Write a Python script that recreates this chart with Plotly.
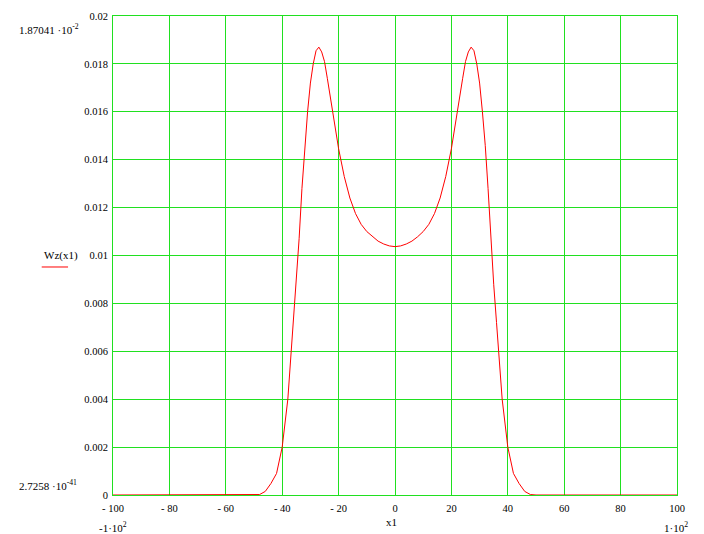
import plotly.graph_objects as go

# data
x1 = [-100, -50, -48, -46, -44, -42, -40, -38, -36, -35, -34, -33, -32, -31, -30, -29, -28, -27,
      -26, -25, -24, -22, -20, -18, -16, -14, -12, -10, -8, -6, -4, -2, 0,
      2, 4, 6, 8, 10, 12, 14, 16, 18, 20, 22, 24, 25, 26, 27, 28, 29, 30, 31, 32, 33, 34, 35,
      36, 38, 40, 42, 44, 46, 48, 50, 100]
wz = [0.0, 0.0, 0.00002, 0.00015, 0.00048, 0.0009, 0.0020, 0.0040, 0.0072, 0.0088, 0.0107, 0.0128,
      0.0146, 0.0160, 0.0172, 0.0180, 0.01855, 0.0187,
      0.0185, 0.0181, 0.0174, 0.0160, 0.01446, 0.0133, 0.0124, 0.01175, 0.0113, 0.0110, 0.01078,
      0.0106, 0.01048, 0.0104, 0.01037,
      0.0104, 0.01048, 0.0106, 0.01078, 0.0110, 0.0113, 0.01175, 0.0124, 0.0133, 0.01446,
      0.0160, 0.0174, 0.0181, 0.0185, 0.0187, 0.01855, 0.0180, 0.0172, 0.0160, 0.0146, 0.0128,
      0.0107, 0.0088, 0.0072, 0.0040, 0.0020, 0.0009, 0.00048, 0.00015, 0.00002, 0.0, 0.0]

x_ticks = [-100, -80, -60, -40, -20, 0, 20, 40, 60, 80, 100]
x_tick_text = ["- 100", "- 80", "- 60", "- 40", "- 20", "0", "20", "40", "60", "80", "100"]
y_ticks = [0, 0.002, 0.004, 0.006, 0.008, 0.01, 0.012, 0.014, 0.016, 0.018, 0.02]
y_tick_text = ["0", "0.002", "0.004", "0.006", "0.008", "0.01", "0.012", "0.014", "0.016", "0.018", "0.02"]

GREEN = "rgb(32,224,32)"
RED = "#FF0000"
SERIF = "Liberation Serif, Times New Roman, serif"

fig = go.Figure()
fig.add_trace(go.Scatter(x=x1, y=wz, mode="lines", line=dict(color=RED, width=1),
                         hoverinfo="skip", showlegend=False))

fig.update_layout(
    width=704, height=534,
    margin=dict(l=113, r=27, t=16, b=39),
    paper_bgcolor="white", plot_bgcolor="white",
    showlegend=False,
    xaxis=dict(range=[-100, 100], tickvals=x_ticks, ticktext=x_tick_text,
               showgrid=True, gridcolor=GREEN, gridwidth=1, zeroline=False,
               showline=True, linecolor=GREEN, linewidth=1, mirror=True,
               ticks="", ticklabelstandoff=3,
               tickfont=dict(family=SERIF, size=10.5, color="black"),
               automargin=False, fixedrange=True),
    yaxis=dict(range=[0, 0.02], tickvals=y_ticks, ticktext=y_tick_text,
               showgrid=True, gridcolor=GREEN, gridwidth=1, zeroline=False,
               showline=True, linecolor=GREEN, linewidth=1, mirror=True,
               ticks="", ticklabelstandoff=2,
               tickfont=dict(family=SERIF, size=10.5, color="black"),
               automargin=False, fixedrange=True),
)

def ann(text, x, y, xanchor="left", size=11):
    fig.add_annotation(text=text, x=x, y=y, xref="paper", yref="paper",
                       xanchor=xanchor, yanchor="middle", showarrow=False,
                       font=dict(family=SERIF, size=size, color="black"))

ann("1.87041 ·10<sup>-2</sup>", -0.170, 0.972)
ann("2.7258 ·10<sup>-41</sup>", -0.170, 0.0209)
ann("-1·10<sup>2</sup>", -0.0283, -0.0668)
ann("1·10<sup>2</sup>", 0.973, -0.0668)
ann("x1", 0.4943, -0.0570, xanchor="center")
ann("Wz(x1)", -0.1257, 0.499)

fig.add_shape(type="line", xref="paper", yref="paper", x0=-0.1264, x1=-0.0797, y0=0.476, y1=0.476,
              line=dict(color=RED, width=1))

fig.write_html("out.html", config={"displayModeBar": False},
               post_script="document.body.style.margin='0';")
